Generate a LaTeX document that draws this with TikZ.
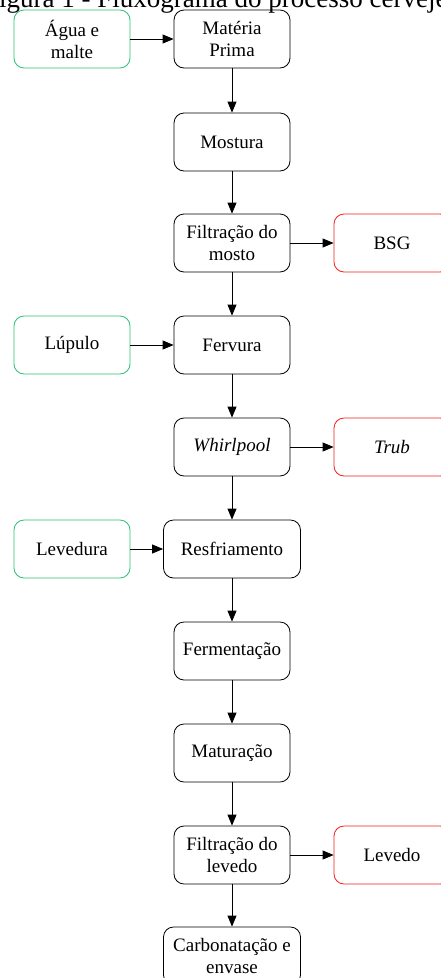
\documentclass[tikz,border=0pt]{standalone}
\usepackage{fontspec}
\setmainfont{Liberation Serif}
\usetikzlibrary{arrows.meta}
\definecolor{boxgreen}{RGB}{40,195,110}
\definecolor{boxred}{RGB}{245,30,30}
\begin{document}
\begin{tikzpicture}[x=1pt,y=-1pt,
  box/.style={draw=black, rounded corners=10pt, minimum width=116pt, minimum height=58pt,
    align=center, font=\fontsize{19}{22}\selectfont, inner sep=0pt, line width=0.8pt},
  wide/.style={minimum width=137pt},
  inbox/.style={box, draw=boxgreen},
  outbox/.style={box, draw=boxred},
  arr/.style={-{Triangle[length=11pt,width=9pt]}, line width=0.8pt}]
\useasboundingbox (0,0) rectangle (441,978);
\node[anchor=base west, font=\fontsize{27}{30}\selectfont, inner sep=0pt] (title) at (-16,7) {Figura 1 - Fluxograma do processo cervejeiro};
\node[inbox] (agua) at (72,39) {Água e\\malte};
\node[box] (mp) at (232,39) {Matéria\\Prima};
\node[box] (most) at (232,142) {Mostura};
\node[box] (filt) at (232,243) {Filtração do\\mosto};
\node[outbox] (bsg) at (392,243) {BSG};
\node[inbox] (lup) at (72,345) {Lúpulo};
\node[box] (ferv) at (232,345) {Fervura};
\node[box] (whirl) at (232,447) {\itshape Whirlpool};
\node[outbox] (trub) at (392,447) {\itshape Trub};
\node[inbox] (lev) at (72,549) {Levedura};
\node[box, wide] (resf) at (232,549) {Resfriamento};
\node[box] (ferm) at (232,651) {Fermentação};
\node[box] (mat) at (232,753) {Maturação};
\node[box] (filt2) at (232,855) {Filtração do\\levedo};
\node[outbox] (levedo) at (392,855) {Levedo};
\node[box, wide] (carb) at (232,956) {Carbonatação e\\envase};
\draw[arr] (agua) -- (mp);
\draw[arr] (mp) -- (most);
\draw[arr] (most) -- (filt);
\draw[arr] (filt) -- (bsg);
\draw[arr] (filt) -- (ferv);
\draw[arr] (lup) -- (ferv);
\draw[arr] (ferv) -- (whirl);
\draw[arr] (whirl) -- (trub);
\draw[arr] (whirl) -- (resf);
\draw[arr] (lev) -- (resf);
\draw[arr] (resf) -- (ferm);
\draw[arr] (ferm) -- (mat);
\draw[arr] (mat) -- (filt2);
\draw[arr] (filt2) -- (levedo);
\draw[arr] (filt2) -- (carb);
\end{tikzpicture}
\end{document}
